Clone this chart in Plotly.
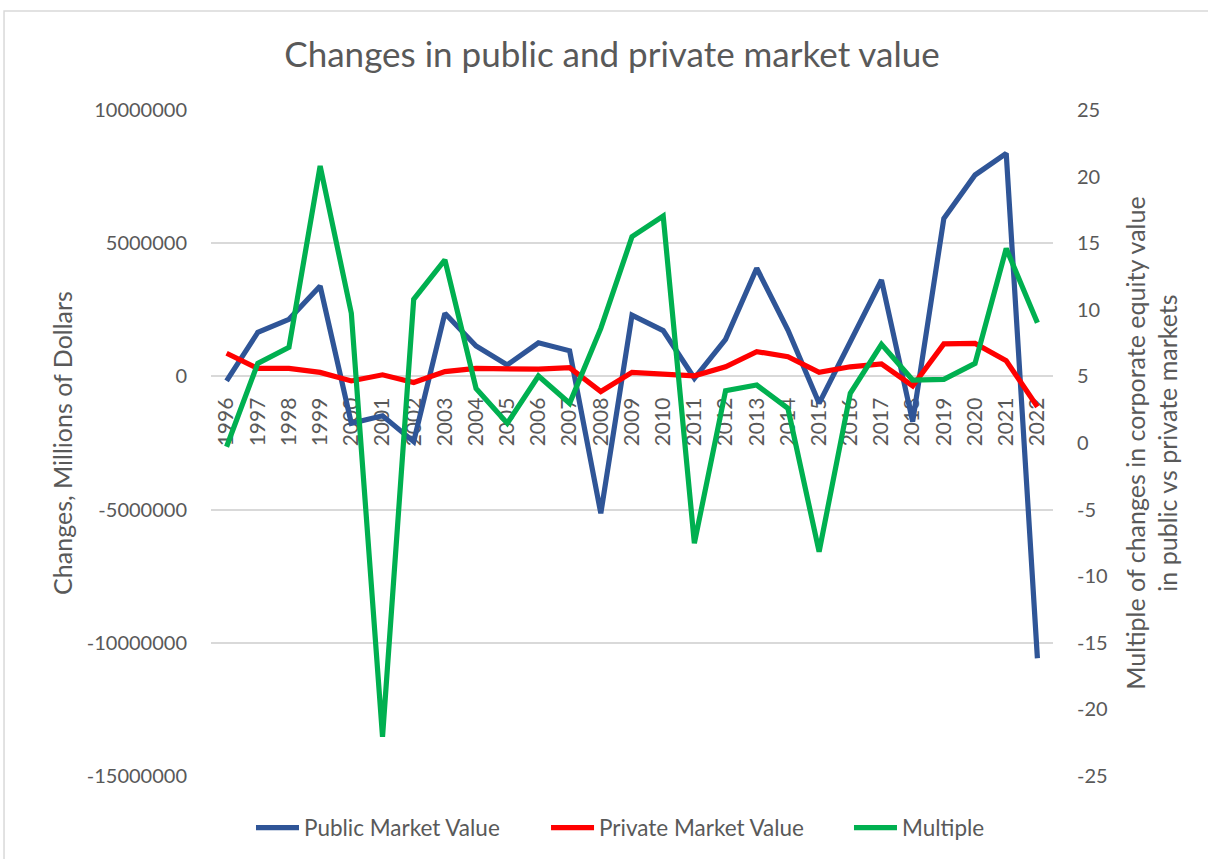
import plotly.graph_objects as go

years = ["1996", "1997", "1998", "1999", "2000", "2001", "2002", "2003", "2004",
         "2005", "2006", "2007", "2008", "2009", "2010", "2011", "2012", "2013",
         "2014", "2015", "2016", "2017", "2018", "2019", "2020", "2021", "2022"]

public_market = [-170000, 1650000, 2140000, 3390000, -1760000, -1480000, -2450000,
                 2370000, 1140000, 430000, 1260000, 960000, -5140000, 2300000,
                 1720000, -70000, 1390000, 4060000, 1740000, -1010000, 1300000,
                 3620000, -1700000, 5930000, 7560000, 8370000, -10580000]

private_market = [870000, 300000, 300000, 150000, -170000, 60000, -230000, 180000,
                  300000, 300000, 270000, 330000, -570000, 150000, 90000, 20000,
                  360000, 930000, 740000, 150000, 360000, 470000, -360000, 1220000,
                  1240000, 590000, -1140000]

multiple = [-0.28, 5.98, 7.18, 20.8, 9.74, -22.05, 10.79, 13.74, 4.1, 1.48, 5.03,
            2.98, 8.6, 15.49, 17.04, -7.53, 3.93, 4.35, 2.6, -8.16, 3.73, 7.41,
            4.73, 4.78, 5.98, 14.6, 9.03]

left_ticks = [-15000000, -10000000, -5000000, 0, 5000000, 10000000]
left_tick_labels = ["-15000000", "-10000000", "-5000000", "0", "5000000", "10000000"]
right_ticks = [-25, -20, -15, -10, -5, 0, 5, 10, 15, 20, 25]
right_tick_labels = ["-25", "-20", "-15", "-10", "-5", "0", "5", "10", "15", "20", "25"]

FONT = "Lato, 'Open Sans', sans-serif"
GREY = "#595959"
GRID = "#d9d9d9"
LW = 5.2

fig = go.Figure()
fig.add_trace(go.Scatter(x=years, y=public_market, name="Public Market Value",
                         mode="lines", line=dict(color="#2F5597", width=LW),
                         legend="legend", showlegend=True))
fig.add_trace(go.Scatter(x=years, y=private_market, name="Private Market Value",
                         mode="lines", line=dict(color="#FF0000", width=LW),
                         legend="legend2", showlegend=True))
fig.add_trace(go.Scatter(x=years, y=multiple, name="Multiple", yaxis="y2",
                         mode="lines", line=dict(color="#00B050", width=LW),
                         legend="legend3", showlegend=True))

legend_common = dict(orientation="h", xanchor="left", y=-0.078, yanchor="middle",
                     font=dict(size=22.5, color=GREY, family=FONT), itemwidth=43,
                     bgcolor="rgba(0,0,0,0)")

fig.update_layout(
    width=1208, height=859,
    showlegend=True,
    margin=dict(l=211, r=155, t=110, b=83, autoexpand=False),
    paper_bgcolor="white", plot_bgcolor="white",
    font=dict(family=FONT, color=GREY, size=20),
    title=dict(text="Changes in public and private market value",
               x=0.5066, xanchor="center", y=0.936, yanchor="middle",
               yref="container", font=dict(size=35, color=GREY, family=FONT)),
    xaxis=dict(type="category", anchor="free", position=0.6, tickangle=-90,
               showgrid=False, showline=False, zeroline=False, ticks="",
               ticklabelstandoff=16, layer="below traces",
               tickfont=dict(size=21, color=GREY, family=FONT),
               range=[-0.5, 26.5]),
    yaxis=dict(range=[-15000000, 10000000], tickvals=left_ticks,
               ticktext=left_tick_labels, showgrid=True, gridcolor=GRID,
               gridwidth=1.5, zeroline=True, zerolinecolor=GRID, zerolinewidth=1.5,
               ticks="", ticklabelstandoff=23, showline=False,
               tickfont=dict(size=20, color=GREY, family=FONT),
               title=dict(text="Changes, Millions of Dollars", standoff=7,
                          font=dict(size=25, color=GREY, family=FONT))),
    yaxis2=dict(range=[-25, 25], tickvals=right_ticks, ticktext=right_tick_labels,
                overlaying="y", side="right", showgrid=False, zeroline=False,
                ticks="", ticklabelstandoff=23, showline=False,
                tickfont=dict(size=20, color=GREY, family=FONT),
                title=dict(text="Multiple of changes in corporate equity value<br>in public vs private markets",
                           standoff=20, font=dict(size=25, color=GREY, family=FONT))),
    legend=dict(x=0.0475, visible=True, **legend_common),
    legend2=dict(x=0.3979, visible=True, **legend_common),
    legend3=dict(x=0.7577, visible=True, **legend_common),
    shapes=[dict(type="rect", xref="paper", yref="paper", x0=-0.2458, x1=1.3,
                 y0=-0.3, y1=1.1486, line=dict(color=GRID, width=1.5),
                 layer="below")],
)

fig.write_html("out.html", config={"displayModeBar": False},
               post_script="document.body.style.margin='0';document.body.style.overflow='hidden';")
